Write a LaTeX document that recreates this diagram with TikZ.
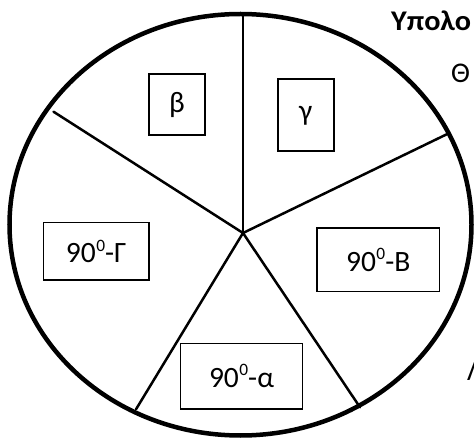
\documentclass[tikz,border=0pt]{standalone}
\usepackage{fontspec}
\setmainfont{Carlito}
\usetikzlibrary{shapes.geometric}
\newcommand{\degz}{\kern0.5pt\raisebox{11.6pt}{\fontsize{17.4}{17.4}\selectfont 0}}
\begin{document}
\begin{tikzpicture}[x=1pt,y=-1pt,
  lbl/.style={draw=black,line width=1.6pt,inner sep=0pt,font=\fontsize{29.5}{33}\selectfont},
  radial/.style={line width=2.5pt,line cap=round},
  rim/.style={line width=4.5pt},
  txt/.style={anchor=base west,inner sep=0pt,font=\fontsize{28.5}{33}\selectfont}]
\useasboundingbox (0,0) rectangle (474,438);
\clip (0,0) rectangle (474,438);
\coordinate (O) at (243,233);
\coordinate (pT) at (243,15);
\coordinate (pUL) at (53.5,111.7);
\coordinate (pUR) at (446.7,134.3);
\coordinate (pLL) at (136,409.3);
\coordinate (pLR) at (360,407.3);
\draw[radial] (O) -- (pT);
\draw[radial] (O) -- (pUL);
\draw[radial] (O) -- (pUR);
\draw[radial] (O) -- (pLL);
\draw[radial] (O) -- (pLR);
\node[rim,draw,ellipse,minimum width=462pt,minimum height=421.5pt,inner sep=0pt] (rim) at (240.5,224.75) {};
\node[lbl,minimum width=56pt,minimum height=61pt] (b) at (177,104.5) {β};
\node[lbl,minimum width=56pt,minimum height=72pt] (g) at (305.7,115.3) {γ};
\node[lbl,minimum width=105.7pt,minimum height=57.3pt] (G) at (96.2,251.3) {90\degz-Γ};
\node[lbl,minimum width=122.3pt,minimum height=63.7pt] (B) at (378.2,259.8) {90\degz-Β};
\node[lbl,minimum width=122.3pt,minimum height=65pt] (a) at (241.5,376.2) {90\degz-α};
\node[txt] (t1) at (391,31) {\scalebox{1.06}[1]{\bfseries Υπολο}};
\node[txt] (t2) at (451,83) {Θ};
\node[txt] (t3) at (467,381) {Λ};
\end{tikzpicture}
\end{document}
